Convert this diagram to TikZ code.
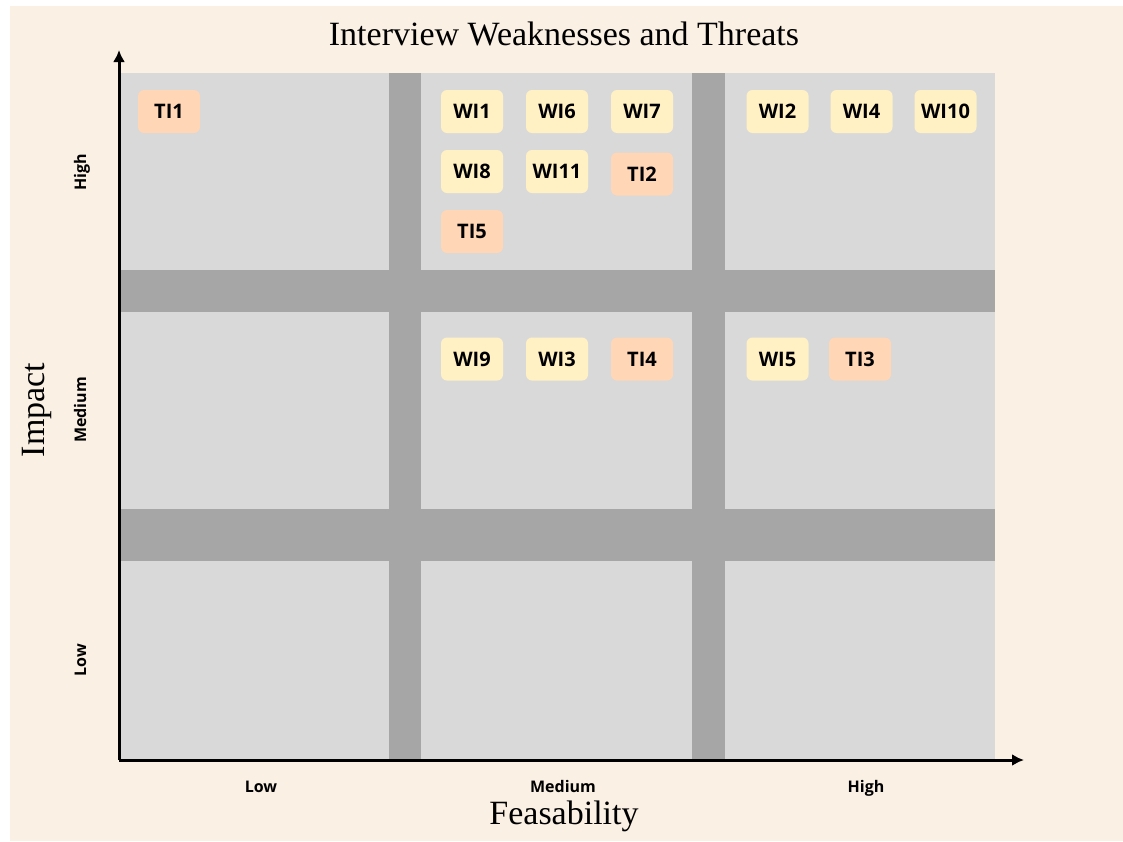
\documentclass[tikz,border=0pt]{standalone}
\usepackage{fontspec}
\setmainfont{Liberation Serif}
\newfontfamily\tagfont{Open Sans}
\usetikzlibrary{arrows.meta}
\definecolor{cream}{HTML}{FAF0E3}
\definecolor{cellgrey}{HTML}{D9D9D9}
\definecolor{bargrey}{HTML}{A6A6A6}
\definecolor{wtag}{HTML}{FFF1C3}
\definecolor{ttag}{HTML}{FFD6B6}
\tikzset{
  tagbox/.style={fill=#1, rounded corners=6pt, minimum width=62pt, minimum height=43pt,
    inner sep=0pt, font=\tagfont\bfseries\fontsize{20}{20}\selectfont, text=black},
  wi/.style={tagbox=wtag},
  ti/.style={tagbox=ttag},
  axislabel/.style={font=\tagfont\bfseries\fontsize{16}{16}\selectfont, inner sep=0pt, anchor=base},
  bigtext/.style={font=\fontsize{34}{34}\selectfont, inner sep=0pt},
  axisline/.style={line width=3pt, -{Latex[length=12pt,width=12pt]}},
}
\begin{document}
\begin{tikzpicture}[x=1pt,y=-1pt]
\useasboundingbox (0,0) rectangle (1123,841);
\fill[white] (0,0) rectangle (1123,841);
\fill[cream] (10,6) rectangle (1123,841);
% grid
\fill[cellgrey] (119,73) rectangle (995,760);
\fill[bargrey] (389,73) rectangle (421,760);
\fill[bargrey] (692,73) rectangle (725,760);
\fill[bargrey] (119,270) rectangle (995,312);
\fill[bargrey] (119,509) rectangle (995,561);
% axes
\coordinate (O) at (119,760);
\coordinate (ytop) at (119,50);
\coordinate (xend) at (1024,760);
\draw[axisline] (O) -- (ytop);
\draw[axisline] (O) -- (xend);
% titles
\node[bigtext] (title) at (564,34) {Interview Weaknesses and Threats};
\node[bigtext] (feas) at (564,816) {Feasability};
\node[bigtext, rotate=90] (impact) at (37,410) {Impact};
% axis labels
\node[axislabel] (xlow) at (261,792) {Low};
\node[axislabel] (xmed) at (563,792) {Medium};
\node[axislabel] (xhigh) at (866,792) {High};
\node[axislabel, rotate=90] (yhigh) at (86,172) {High};
\node[axislabel, rotate=90] (ymed) at (86,410) {Medium};
\node[axislabel, rotate=90] (ylow) at (86,660) {Low};
% tags
\node[ti] (TI1) at (169,111.5) {TI1};
\node[wi] (WI1) at (472,111.5) {WI1};
\node[wi] (WI6) at (557,111.5) {WI6};
\node[wi] (WI7) at (642,111.5) {WI7};
\node[wi] (WI8) at (472,171.5) {WI8};
\node[wi] (WI11) at (557,171.5) {WI11};
\node[ti] (TI2) at (642,174) {TI2};
\node[ti] (TI5) at (472,231.5) {TI5};
\node[wi] (WI2) at (777.5,111.5) {WI2};
\node[wi] (WI4) at (861.5,111.5) {WI4};
\node[wi] (WI10) at (945.5,111.5) {WI10};
\node[wi] (WI9) at (472,359) {WI9};
\node[wi] (WI3) at (557,359) {WI3};
\node[ti] (TI4) at (642,359) {TI4};
\node[wi] (WI5) at (777.5,359) {WI5};
\node[ti] (TI3) at (860,359) {TI3};
\end{tikzpicture}
\end{document}
